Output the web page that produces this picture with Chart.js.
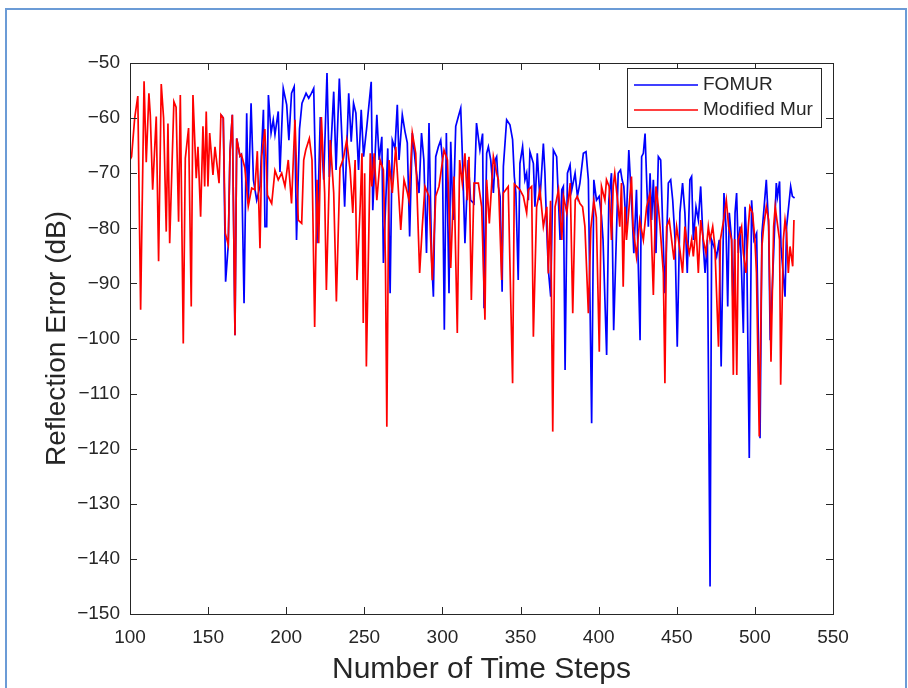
<!DOCTYPE html>
<html>
<head>
<meta charset="utf-8">
<script src="https://cdn.jsdelivr.net/npm/chart.js@4.4.1/dist/chart.umd.min.js"></script>
<style>
  html, body { margin: 0; padding: 0; background: #fff; }
  #wrap { position: relative; width: 908px; height: 688px; overflow: hidden; background: #fff; }
  #wrap canvas { position: absolute; left: 0; top: 0; }
  #frame { position: absolute; left: 5px; top: 8px; width: 898px; height: 700px;
           border: 2px solid #6b9bd6; border-bottom: none; pointer-events: none; }
</style>
</head>
<body>
<div id="wrap">
  <canvas id="chart" width="908" height="688"></canvas>
  <div id="frame"></div>
</div>
<script>
// ===== data =====
const xTicks = [100, 150, 200, 250, 300, 350, 400, 450, 500, 550];
const yTicks = [-150, -140, -130, -120, -110, -100, -90, -80, -70, -60, -50];
const seriesNames = ["FOMUR", "Modified Mur"];

// Modified Mur (red)
const murSteps = [
  100,101,103,105,106.8,109,110.4,112.1,113,114.5,116.8,118.3,120,121.5,123.2,124.3,125.4,128.1,129.5,131.1,
  132.2,134.1,135.4,137.5,139.2,140.3,142.4,143.5,145.2,146.7,147.8,148.8,149.9,151,153.1,154.4,157,158.2,159.7,161,
  162.9,164,165.5,167.2,168.3,170.4,171.3,173.5,175.7,177.9,179.9,181.5,183.2,184.3,186.3,188,190.7,192.8,194.9,197.1,
  199.2,201.3,203.4,205.6,207.7,209.9,211.2,212.5,214.8,216.5,218.2,219.7,220.8,222.5,224.6,225.7,228.2,230.4,232.1,234.4,
  236.6,238.7,240.9,242.6,244.1,245.3,247.4,248.5,249.3,250.2,251.3,253.8,254.8,256.3,258,260.1,262.2,263.5,264.4,265.8,
  267.9,270.1,272.2,273.3,275.4,277.6,278.6,280.7,282.9,285.4,287.1,288.8,291.4,293.5,295.7,297.8,301,303.2,305.3,307.4,
  309.5,311,312.7,314.4,315.9,317,318.5,320.2,323,325.1,327.2,328.3,330,332.6,334.7,335.8,337.9,339,342.1,344.9,
  346,347.5,349.6,351.8,353.9,355,357.1,358.2,360.3,362.4,364.6,366.8,367.8,369.2,370.6,372.1,374.3,376.4,377.5,379.6,
  381.8,383.4,385,386.3,388,389.7,391.2,393.4,395,396.9,398.5,400.4,401.8,404,405,406.7,408.2,409.3,410.3,412.5,
  413.5,414.6,415.7,416.8,417.8,421,422,424.2,426.3,428.6,430.7,432.9,435,436.7,438.2,439.3,441.4,442.4,443.5,445.2,
  446.7,448.2,449.9,452,453.7,455.2,456.3,458,459.5,460.6,462.3,463.8,465.3,467,468.7,470.2,471.3,473,474.4,476.7,
  477.9,480,481.7,483.2,485.1,486.2,487.1,488.4,489.4,491.5,492.6,494.3,495.8,496.8,498.5,500,501,502.8,504.5,505.6,
  507.3,508.8,510.3,512,513,514.1,515.8,516.5,518.2,519.3,520.3,521.4,522.5,524.2,525
];
const murDb = [
  -67.6,-67,-60,-56,-94.8,-53.3,-68,-55.5,-59.5,-73,-59.7,-86,-53.8,-60,-80.6,-61,-82.7,-57,-58,-78.8,
  -55.8,-100.9,-67.3,-61.8,-94.2,-55.8,-70.9,-65.2,-77.9,-61.5,-72.4,-58.8,-72.4,-62.7,-70.3,-65.2,-71.8,-59.4,-60,-80.9,
  -83,-66.2,-59.4,-99.4,-63.7,-66.9,-66.6,-69,-76,-72.7,-73,-66,-83.6,-66.9,-62,-74,-75.5,-69.5,-71.2,-70,
  -72.4,-67.6,-75.5,-60.3,-78.5,-79.1,-67.6,-65.8,-63.7,-67.6,-97.9,-71.2,-82.7,-59.8,-73.6,-91.2,-64,-73.6,-93.3,-69.1,
  -67.3,-64,-69.4,-77.2,-67.6,-89.4,-75.5,-66.4,-97.2,-70,-105.1,-66.4,-72.4,-66.4,-74.9,-67.6,-69.4,-85.7,-116,-67.6,
  -73.6,-65.2,-74.9,-80.3,-71.2,-73.6,-74.9,-62.7,-66.4,-88.1,-79.7,-72.4,-74.2,-89.4,-74.2,-72.4,-65.8,-67.6,-87.2,-70.6,
  -99,-67.6,-71.8,-66.4,-74.9,-67,-93,-71.8,-71.8,-76.1,-96.6,-71.2,-79.1,-67,-70,-71.2,-89.4,-73.6,-72.4,-108.1,
  -72,-72.4,-73,-74.2,-77.2,-73,-72.4,-99.7,-76.1,-73,-79.7,-76.1,-88.2,-75,-116.9,-76.1,-73,-82.1,-74.2,-77.2,
  -71.8,-95.4,-74.9,-74.2,-75.5,-76.1,-79.7,-95.4,-80,-75,-78,-102.4,-72.4,-74.9,-71.2,-72.4,-82.1,-72.4,-70,-76.1,
  -79.7,-71.8,-90.6,-76.1,-82.1,-70.6,-79.7,-85.1,-78.5,-82.1,-76.1,-73.6,-92.1,-72.4,-76.1,-79.7,-88.1,-108.1,-79.7,-78.5,
  -82.1,-85.7,-79.7,-83.9,-88.1,-79.7,-82.1,-84.5,-82.1,-85.1,-79.7,-88.1,-78.5,-82.1,-84.5,-79.7,-82.1,-79.7,-83.3,-101.5,
  -82.1,-78.5,-74.9,-79.7,-82.1,-106.6,-82,-106.6,-82.1,-79.7,-84.5,-88.1,-79.7,-76.1,-77.2,-82.1,-88.1,-117.8,-83.3,-79.7,
  -76.1,-78.5,-104.2,-79.7,-76.1,-78.5,-82.1,-108.4,-82.1,-78.5,-80.9,-88.1,-83.3,-86.9,-78.5
];

// FOMUR (blue) - identical to Modified Mur before ~158, hidden underneath
const fomurSteps = [
  158.2,159.7,161.2,162.9,164,165.5,167.2,168.3,170.4,171.3,173,174.7,175.7,177.5,179,181.1,183.2,185.4,186.4,187.5,
  188.6,190.3,191.7,192.8,194.9,196,198.1,200.3,201.7,203.4,205.1,206.6,208.5,210.1,212.7,214.4,216.1,217.6,219.7,221.8,
  224,226.1,227.6,229.3,230.4,231.9,234,235.7,237.4,240,241.6,243.1,244.6,246.3,248,249.5,251.6,254.4,255.4,258,
  259.5,261.2,262.2,265,266.5,267.9,269.6,271.1,272.2,274.3,276,277.5,279,280.7,282.9,285,286.6,288.1,289.8,291.4,
  293.1,294.2,295.7,297.4,298.9,300,301.2,302.5,304.2,305.3,306.8,308.5,310.2,311.7,312.7,314.4,316.5,318,320.2,321.8,
  324,325.7,326.6,328.3,329.4,330.9,332.6,333.7,334.7,335.8,336.9,338.2,339,341.1,343.2,344.9,346,347,348.5,349.6,
  351.3,352.8,353.9,355,356,358.2,359.2,360.7,362.4,364.6,365.6,366.7,367.8,369.3,371,373.1,375.3,376.4,377.4,378.5,
  380,381.7,382.8,384.9,386.4,388,390.2,391.9,393.4,395.5,396.9,398.6,400.3,401.8,402.8,405.1,406.5,408.2,409.6,412.5,
  414,415,416.1,417.6,419.3,420.4,421.4,422.5,424.2,426.5,427.5,428.6,429.7,430.7,431.8,432.9,433.9,435,436.7,438.2,
  439.7,441,442.4,444.6,446.1,447.4,448.9,450.3,452,453.7,455.2,456.7,458.4,459.5,460.6,462.3,463.8,465.3,467,468.1,
  469.6,471.3,472.3,473.8,475.5,477.2,478.4,480.2,481.5,482.6,483.6,485.1,486.2,487.3,488.3,489.4,490.5,491.5,492.6,493.7,
  494.7,496.4,497.9,499.4,501.1,503.3,504.5,505.6,507.3,508.8,509.8,512,513.7,514.5,515.8,516.7,519.3,520.3,521.8,522.9,
  524,525.4
];
const fomurDb = [
  -59.4,-60,-89.7,-83,-66.2,-59.4,-99.4,-63.7,-66.9,-66.6,-93.6,-59.1,-75.5,-57.3,-71.2,-74.9,-72.4,-58.5,-79.7,-79.7,
  -55.8,-62.7,-60.3,-63,-58.8,-69.8,-54.6,-57.6,-64,-55.5,-54.3,-82.1,-62,-57.3,-55.5,-56.4,-55.5,-54.6,-82.7,-59.8,
  -71.2,-51.8,-70.7,-61.5,-55.2,-69.4,-52.8,-64,-76.1,-55.5,-64.3,-57.3,-59.1,-69.4,-58.5,-67,-61.5,-53.4,-76.7,-59.4,
  -67.6,-63.4,-86.3,-65.5,-91.8,-64,-65.5,-57.6,-67.6,-59.4,-62.4,-64.5,-81.5,-62.7,-68.8,-73.6,-62.7,-67.6,-84.5,-60.9,
  -85.7,-92.4,-67,-65.2,-64,-67.6,-98.4,-62.7,-91.8,-64.3,-78.5,-61.5,-59.7,-58.2,-66.4,-82.7,-67.6,-74.9,-75.5,-60.9,
  -65.8,-62.8,-94.5,-66.4,-65.2,-67.6,-73.6,-67.6,-67,-72.4,-74.2,-91.5,-68.8,-60.3,-61.2,-63.9,-70.6,-73.6,-89.4,-68.2,
  -65.2,-71.2,-70,-74.9,-66.1,-68.2,-76.1,-66.4,-74.9,-64.6,-70,-79.7,-87.6,-92.4,-65.8,-67,-82.1,-73,-72.4,-105.7,
  -70,-68.5,-73,-70,-74.2,-71.8,-66.4,-66.1,-71.2,-115.4,-71.2,-74.9,-74.2,-77.8,-82.1,-103,-74.9,-70,-98.5,-70,
  -69.4,-71.2,-72.4,-79.7,-65.8,-71.8,-77.2,-84.5,-73,-100.3,-67,-66.4,-62.8,-71.2,-79.7,-70,-78.5,-71.2,-84.5,-67,
  -67.6,-79.7,-91.8,-71.8,-71.2,-74.9,-82.1,-101.5,-77.2,-71.8,-77.2,-88.1,-71.2,-70.6,-82.1,-76.1,-78.5,-72.4,-83.3,-88.1,
  -82.1,-145,-82.1,-83.3,-85.1,-82.1,-105.1,-73.6,-79.7,-94.2,-77.2,-82.1,-96.6,-77.2,-73.6,-84.5,-79.7,-88.1,-99,-76.1,
  -82.1,-121.7,-74.9,-82.1,-80.9,-118.1,-80.9,-77.2,-71.2,-79.7,-100.3,-84.5,-71.8,-74.2,-71.5,-83.3,-92.4,-79.7,-75.5,-72.4,
  -74.2,-74.5
];

const toPts = (xs, ys) => xs.map((x, i) => ({ x, y: ys[i] }));

const FONT = "'Liberation Sans', Arial, Helvetica, sans-serif";
const INK = "#262626";

// ===== MATLAB-like box, inward ticks and legend =====
const matlabBox = {
  id: "matlabBox",
  afterDatasetsDraw(chart) {
    const { ctx, chartArea: a, scales: { x, y } } = chart;
    const t = 7;
    ctx.save();
    ctx.strokeStyle = INK;
    ctx.lineWidth = 1;
    ctx.beginPath();
    xTicks.forEach(v => {
      const px = Math.round(x.getPixelForValue(v)) + 0.5;
      ctx.moveTo(px, a.bottom); ctx.lineTo(px, a.bottom - t);
      ctx.moveTo(px, a.top); ctx.lineTo(px, a.top + t);
    });
    yTicks.forEach(v => {
      const py = Math.round(y.getPixelForValue(v)) + 0.5;
      ctx.moveTo(a.left, py); ctx.lineTo(a.left + t, py);
      ctx.moveTo(a.right, py); ctx.lineTo(a.right - t, py);
    });
    ctx.stroke();
    ctx.strokeRect(Math.round(a.left) + 0.5, Math.round(a.top) + 0.5,
                   Math.round(a.right - a.left), Math.round(a.bottom - a.top));

    // legend
    const lx = a.right - 206, ly = a.top + 5, lw = 194, lh = 59;
    ctx.fillStyle = "#fff";
    ctx.fillRect(lx, ly, lw, lh);
    ctx.strokeRect(lx + 0.5, ly + 0.5, lw, lh);
    const colors = [chart.data.datasets[0].borderColor, chart.data.datasets[1].borderColor];
    ctx.font = "19px " + FONT;
    ctx.textBaseline = "middle";
    seriesNames.forEach((name, i) => {
      const yy = ly + 17 + i * 25;
      ctx.strokeStyle = colors[i];
      ctx.lineWidth = 1.6;
      ctx.beginPath();
      ctx.moveTo(lx + 7, yy); ctx.lineTo(lx + 71, yy);
      ctx.stroke();
      ctx.fillStyle = INK;
      ctx.fillText(name, lx + 76, yy);
    });
    ctx.restore();
  }
};

new Chart(document.getElementById("chart"), {
  type: "line",
  data: {
    datasets: [
      { label: seriesNames[0], data: toPts(fomurSteps, fomurDb), borderColor: "#0000ff",
        borderWidth: 1.7, pointRadius: 0, tension: 0, order: 1 },
      { label: seriesNames[1], data: toPts(murSteps, murDb), borderColor: "#ff0000",
        borderWidth: 1.7, pointRadius: 0, tension: 0, order: 0 }
    ]
  },
  options: {
    responsive: false,
    animation: false,
    events: [],
    layout: { padding: { left: 0, right: 75, top: 63, bottom: 0 } },
    plugins: { legend: { display: false }, tooltip: { enabled: false } },
    scales: {
      x: {
        type: "linear", min: 100, max: 550,
        grid: { display: false, drawTicks: false },
        border: { display: false },
        afterBuildTicks: s => { s.ticks = xTicks.map(v => ({ value: v })); },
        afterFit: s => { s.height = 74; },
        ticks: { color: INK, font: { family: FONT, size: 19 }, padding: 12, maxRotation: 0 },
        title: { display: true, text: "Number of Time Steps", color: INK,
                 font: { family: FONT, size: 30 }, padding: { top: 0, bottom: 0 } }
      },
      y: {
        type: "linear", min: -150, max: -50,
        grid: { display: false, drawTicks: false },
        border: { display: false },
        afterBuildTicks: s => { s.ticks = yTicks.map(v => ({ value: v })); },
        afterFit: s => { s.width = 130; },
        ticks: { color: INK, font: { family: FONT, size: 19 }, padding: 10,
                 callback: v => String(v).replace("-", "\u2212") },
        title: { display: true, text: "Reflection Error (dB)", color: INK,
                 font: { family: FONT, size: 28 }, padding: { top: 40, bottom: 0 } }
      }
    }
  },
  plugins: [matlabBox]
});
</script>
</body>
</html>
